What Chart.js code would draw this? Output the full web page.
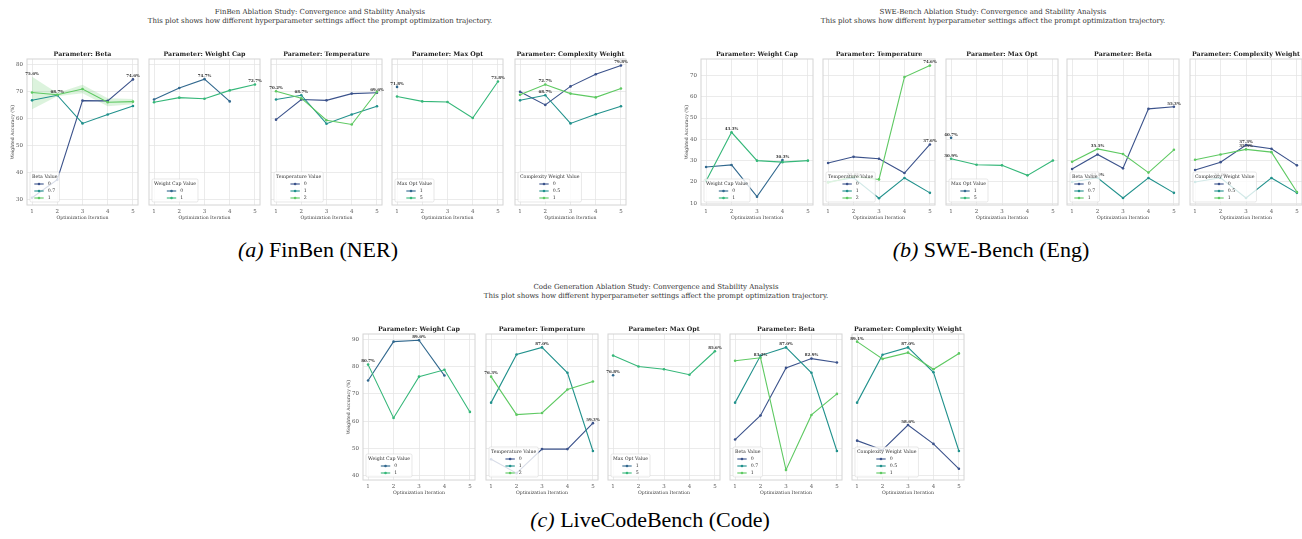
<!doctype html>
<html lang="en">
<head>
<meta charset="utf-8">
<title>Ablation Study: Convergence and Stability Analysis</title>
<style>
  body { margin: 0; background: #fff; width: 1302px; height: 539px; overflow: hidden; position: relative; font-family: "DejaVu Serif", serif; }
  .panel { position: absolute; }
  .suptitle { position: absolute; transform: translateX(-50%); text-align: center; font-size: 7px; line-height: 9px; color: #333; white-space: nowrap; }
  .caption { position: absolute; transform: translate(-50%, -50%); font-family: "Liberation Serif", "Times New Roman", serif; font-size: 22px; color: #000; white-space: nowrap; }
</style>
</head>
<body>
<div class="suptitle" style="left:320px;top:7.5px">FinBen Ablation Study: Convergence and Stability Analysis<br>This plot shows how different hyperparameter settings affect the prompt optimization trajectory.</div>
<div class="suptitle" style="left:993px;top:7.5px">SWE-Bench Ablation Study: Convergence and Stability Analysis<br>This plot shows how different hyperparameter settings affect the prompt optimization trajectory.</div>
<div class="suptitle" style="left:656px;top:282.5px">Code Generation Ablation Study: Convergence and Stability Analysis<br>This plot shows how different hyperparameter settings affect the prompt optimization trajectory.</div>
<div class="caption" style="left:318px;top:250px"><i>(a)</i> FinBen (NER)</div>
<div class="caption" style="left:991px;top:250px"><i>(b)</i> SWE-Bench (Eng)</div>
<div class="caption" style="left:650px;top:520px"><i>(c)</i> LiveCodeBench (Code)</div>

<script src="https://cdn.jsdelivr.net/npm/chart.js@4.4.0/dist/chart.umd.min.js"></script>
<script>
// x axis: optimization iteration
const iterations = [1, 2, 3, 4, 5];

// ---- FinBen (NER) ----
const finYTicks = [30, 40, 50, 60, 70, 80];
const finYMin = 27.8, finYMax = 82.2;
const finBetaLabels = ['0', '0.7', '1'];
const finBeta0 = [30.5, 37.2, 66.7, 66.6, 74.6];
const finBeta07 = [66.8, 68.7, 58.2, 61.5, 64.7];
const finBeta1 = [69.7, 68.9, 71.0, 66.1, 66.3];
const finBeta1Low = [63.5, 68.3, 69.4, 64.6, 65.3];
const finBeta1High = [75.6, 69.5, 72.6, 67.6, 67.3];
const finCapLabels = ['0', '1'];
const finCap0 = [67.1, 71.4, 74.7, 66.4, null];
const finCap1 = [66.1, 67.8, 67.4, 70.5, 72.7];
const finTempLabels = ['0', '1', '2'];
const finTemp0 = [59.6, 67.1, 66.8, 69.3, 69.6];
const finTemp1 = [67.1, 68.7, 58.1, 61.5, 64.6];
const finTemp2 = [70.2, 67.6, 59.4, 57.8, 70.0];
const finOptLabels = ['1', '5'];
const finOpt1 = [71.8, null, null, null, null];
const finOpt5 = [68.2, 66.4, 66.2, 60.2, 73.8];
const finCwLabels = ['0', '0.5', '1'];
const finCw0 = [70.0, 65.1, 72.0, 76.5, 79.8];
const finCw05 = [66.8, 68.7, 58.2, 61.6, 64.6];
const finCw1 = [68.9, 72.7, 69.3, 67.9, 71.2];

// ---- SWE-Bench (Eng) ----
const sweYTicks = [10, 20, 30, 40, 50, 60, 70];
const sweYMin = 9.2, sweYMax = 77.7;
const sweCapLabels = ['0', '1'];
const sweCap0 = [27.0, 28.0, 13.1, 30.3, null];
const sweCap1 = [20.5, 43.3, 30.0, 29.3, 30.0];
const sweTempLabels = ['0', '1', '2'];
const sweTemp0 = [28.9, 31.8, 30.9, 24.2, 37.6];
const sweTemp1 = [20.0, 22.0, 12.4, 21.9, 14.9];
const sweTemp2 = [19.7, 22.6, 21.2, 69.2, 74.6];
const sweOptLabels = ['1', '5'];
const sweOpt1 = [40.7, null, null, null, null];
const sweOpt5 = [30.9, 28.1, 27.8, 23.1, 30.1];
const sweBetaLabels = ['0', '0.7', '1'];
const sweBeta0 = [26.1, 32.9, 26.4, 54.3, 55.3];
const sweBeta07 = [20.0, 22.0, 12.5, 21.9, 14.9];
const sweBeta1 = [29.5, 35.5, 33.1, 24.4, 35.1];
const sweCwLabels = ['0', '0.5', '1'];
const sweCw0 = [25.6, 29.3, 37.3, 35.6, 27.8];
const sweCw05 = [20.0, 22.0, 12.5, 21.9, 14.9];
const sweCw1 = [30.4, 32.9, 35.3, 34.0, 15.3];

// ---- LiveCodeBench (Code) ----
const codeYTicks = [40, 50, 60, 70, 80, 90];
const codeYMin = 38.5, codeYMax = 91.9;
const codeCapLabels = ['0', '1'];
const codeCap0 = [74.9, 89.1, 89.6, 76.7, null];
const codeCap1 = [80.7, 61.2, 76.3, 78.8, 63.4];
const codeTempLabels = ['0', '1', '2'];
const codeTemp0 = [46.1, 41.0, 49.8, 49.8, 59.3];
const codeTemp1 = [66.8, 84.4, 87.0, 77.7, 49.1];
const codeTemp2 = [76.3, 62.4, 63.0, 71.6, 74.5];
const codeOptLabels = ['1', '5'];
const codeOpt1 = [76.8, null, null, null, null];
const codeOpt5 = [84.0, 80.0, 79.0, 77.0, 85.6];
const codeBetaLabels = ['0', '0.7', '1'];
const codeBeta0 = [53.3, 62.1, 79.5, 82.9, 81.5];
const codeBeta07 = [66.8, 84.0, 87.0, 77.7, 49.1];
const codeBeta1 = [82.1, 83.2, 42.2, 62.3, 70.0];
const codeCwLabels = ['0', '0.5', '1'];
const codeCw0 = [52.9, 49.5, 58.6, 51.7, 42.6];
const codeCw05 = [66.8, 84.3, 87.0, 77.9, 49.1];
const codeCw1 = [89.1, 82.8, 85.1, 79.0, 84.8];

const palette3 = ['#3b528b', '#21918c', '#5ec962'];
const palette2 = ['#31688e', '#35b779'];
const bandColor = 'rgba(94, 201, 98, 0.22)';
const serif = '"DejaVu Serif", serif';

// canvas margins around each plot area
const L = 22, R = 3, T = 10, B = 17;

const groups = [
  { top: 59, height: 146, width: 112, lefts: [27, 149, 271, 392, 515],
    yMin: finYMin, yMax: finYMax, yTicks: finYTicks, panels: [
    { title: 'Parameter: Beta', param: 'Beta Value', labels: finBetaLabels, series: [finBeta0, finBeta07, finBeta1],
      band: { index: 2, low: finBeta1Low, high: finBeta1High } },
    { title: 'Parameter: Weight Cap', param: 'Weight Cap Value', labels: finCapLabels, series: [finCap0, finCap1] },
    { title: 'Parameter: Temperature', param: 'Temperature Value', labels: finTempLabels, series: [finTemp0, finTemp1, finTemp2] },
    { title: 'Parameter: Max Opt', param: 'Max Opt Value', labels: finOptLabels, series: [finOpt1, finOpt5] },
    { title: 'Parameter: Complexity Weight', param: 'Complexity Weight Value', labels: finCwLabels, series: [finCw0, finCw05, finCw1] }
  ]},
  { top: 59, height: 146, width: 113, lefts: [701, 823, 946, 1067, 1190],
    yMin: sweYMin, yMax: sweYMax, yTicks: sweYTicks, panels: [
    { title: 'Parameter: Weight Cap', param: 'Weight Cap Value', labels: sweCapLabels, series: [sweCap0, sweCap1] },
    { title: 'Parameter: Temperature', param: 'Temperature Value', labels: sweTempLabels, series: [sweTemp0, sweTemp1, sweTemp2] },
    { title: 'Parameter: Max Opt', param: 'Max Opt Value', labels: sweOptLabels, series: [sweOpt1, sweOpt5] },
    { title: 'Parameter: Beta', param: 'Beta Value', labels: sweBetaLabels, series: [sweBeta0, sweBeta07, sweBeta1] },
    { title: 'Parameter: Complexity Weight', param: 'Complexity Weight Value', labels: sweCwLabels, series: [sweCw0, sweCw05, sweCw1] }
  ]},
  { top: 334, height: 146, width: 113, lefts: [363, 486, 608, 730, 852],
    yMin: codeYMin, yMax: codeYMax, yTicks: codeYTicks, panels: [
    { title: 'Parameter: Weight Cap', param: 'Weight Cap Value', labels: codeCapLabels, series: [codeCap0, codeCap1] },
    { title: 'Parameter: Temperature', param: 'Temperature Value', labels: codeTempLabels, series: [codeTemp0, codeTemp1, codeTemp2] },
    { title: 'Parameter: Max Opt', param: 'Max Opt Value', labels: codeOptLabels, series: [codeOpt1, codeOpt5] },
    { title: 'Parameter: Beta', param: 'Beta Value', labels: codeBetaLabels, series: [codeBeta0, codeBeta07, codeBeta1] },
    { title: 'Parameter: Complexity Weight', param: 'Complexity Weight Value', labels: codeCwLabels, series: [codeCw0, codeCw05, codeCw1] }
  ]}
];

// per-canvas extras (title, legend, peak labels)
const decoByCanvas = new WeakMap();

const panelDeco = {
  id: 'panelDeco',
  afterDatasetsDraw(chart) {
    const o = decoByCanvas.get(chart.canvas);
    const { ctx, chartArea: a, scales } = chart;
    ctx.save();
    ctx.strokeStyle = '#d4d4d4';
    ctx.lineWidth = 1;
    ctx.strokeRect(a.left, a.top, a.right - a.left, a.bottom - a.top);
    ctx.fillStyle = '#222';
    ctx.font = 'bold 6.3px ' + serif;
    ctx.textAlign = 'center';
    ctx.textBaseline = 'middle';
    ctx.fillText(o.title, (a.left + a.right) / 2, a.top - 5);
    // peak value labels
    ctx.font = 'bold 4px ' + serif;
    ctx.fillStyle = '#333';
    ctx.textBaseline = 'bottom';
    o.notes.forEach(n => {
      ctx.fillText(n.y.toFixed(1) + '%', scales.x.getPixelForValue(n.x), scales.y.getPixelForValue(n.y) - 1.2);
    });
    ctx.restore();
  },
  afterDraw(chart) {
    // legend box in the lower-left corner, on top of the lines
    const o = decoByCanvas.get(chart.canvas);
    const { ctx, chartArea: a } = chart;
    const row = 7, hw = 9.4, gap = 4;
    ctx.save();
    ctx.font = '4.7px ' + serif;
    const titleW = ctx.measureText(o.legendTitle).width;
    const entryW = hw + gap + Math.max(...o.labels.map(t => ctx.measureText(t).width));
    const w = Math.max(titleW, entryW) + 4;
    const h = 5 + row * o.labels.length + 4;
    const x0 = a.left + 3, y0 = a.bottom - 3 - h;
    ctx.beginPath();
    ctx.roundRect(x0, y0, w, h, 1.5);
    ctx.fillStyle = 'rgba(255,255,255,0.8)';
    ctx.fill();
    ctx.strokeStyle = '#d9d9d9';
    ctx.lineWidth = 0.6;
    ctx.stroke();
    ctx.fillStyle = '#333';
    ctx.textBaseline = 'middle';
    ctx.textAlign = 'center';
    ctx.fillText(o.legendTitle, x0 + w / 2, y0 + 5);
    const bx = x0 + (w - entryW) / 2;
    ctx.textAlign = 'left';
    o.labels.forEach((t, k) => {
      const cy = y0 + 5 + row * (k + 1);
      ctx.strokeStyle = o.colors[k];
      ctx.lineWidth = 1.1;
      ctx.beginPath();
      ctx.moveTo(bx, cy);
      ctx.lineTo(bx + hw, cy);
      ctx.stroke();
      ctx.fillStyle = o.colors[k];
      ctx.beginPath();
      ctx.arc(bx + hw / 2, cy, 1.3, 0, Math.PI * 2);
      ctx.fill();
      ctx.fillStyle = '#333';
      ctx.fillText(t, bx + hw + gap, cy);
    });
    ctx.restore();
  }
};

function buildPanel(g, p, i) {
  const canvas = document.createElement('canvas');
  const w = g.width + L + R, h = g.height + T + B;
  canvas.width = w;
  canvas.height = h;
  canvas.className = 'panel';
  canvas.style.left = (g.lefts[i] - L) + 'px';
  canvas.style.top = (g.top - T) + 'px';
  canvas.style.width = w + 'px';
  canvas.style.height = h + 'px';
  document.body.appendChild(canvas);

  const colors = p.series.length === 2 ? palette2 : palette3;
  const datasets = p.series.map((s, k) => ({
    label: p.labels[k],
    data: iterations.map((x, j) => ({ x, y: s[j] })),
    borderColor: colors[k],
    backgroundColor: colors[k],
    borderWidth: 1.1,
    pointRadius: 1.3,
    pointBorderWidth: 0,
    fill: false,
    order: p.series.length - k
  }));
  if (p.band) {
    datasets.push({ data: iterations.map((x, j) => ({ x, y: p.band.low[j] })), borderWidth: 0, pointRadius: 0, fill: false, order: 10 });
    datasets.push({ data: iterations.map((x, j) => ({ x, y: p.band.high[j] })), borderWidth: 0, pointRadius: 0, fill: '-1', backgroundColor: bandColor, order: 11 });
  }

  // label the best value of each series
  const notes = p.series.map((s, k) => {
    const src = p.band && p.band.index === k ? p.band.high : s;
    let best = -1;
    src.forEach((v, j) => { if (v !== null && (best < 0 || v > src[best])) best = j; });
    return { x: iterations[best], y: src[best] };
  });
  decoByCanvas.set(canvas, { title: p.title, legendTitle: p.param, labels: p.labels, colors, notes });

  const grid = { color: '#e6e6e6', lineWidth: 0.8, drawTicks: false };
  new Chart(canvas, {
    type: 'line',
    data: { datasets },
    options: {
      responsive: false,
      animation: false,
      devicePixelRatio: 1,
      layout: { padding: { top: T, right: R, left: 0, bottom: 0 } },
      plugins: { legend: { display: false }, tooltip: { enabled: false } },
      scales: {
        x: {
          type: 'linear', min: 0.8, max: 5.2,
          afterBuildTicks: s => { s.ticks = iterations.map(v => ({ value: v })); },
          afterFit: s => { s.height = B; },
          grid, border: { display: false },
          ticks: { padding: 3, maxRotation: 0, font: { family: serif, size: 5.5 }, color: '#555' },
          title: { display: true, text: 'Optimization Iteration', font: { family: serif, size: 4.6 }, color: '#444', padding: { top: 0, bottom: 1.2 } }
        },
        y: {
          min: g.yMin, max: g.yMax,
          afterBuildTicks: s => { s.ticks = g.yTicks.map(v => ({ value: v })); },
          afterFit: s => { s.width = L; },
          grid, border: { display: false },
          ticks: { display: i === 0, padding: 4, font: { family: serif, size: 5.5 }, color: '#555' },
          title: { display: i === 0, text: 'Weighted Accuracy (%)', font: { family: serif, size: 4.6 }, color: '#444', padding: { top: 5.5, bottom: 0 } }
        }
      }
    },
    plugins: [panelDeco]
  });
}

groups.forEach(g => g.panels.forEach((p, i) => buildPanel(g, p, i)));
</script>
</body>
</html>
